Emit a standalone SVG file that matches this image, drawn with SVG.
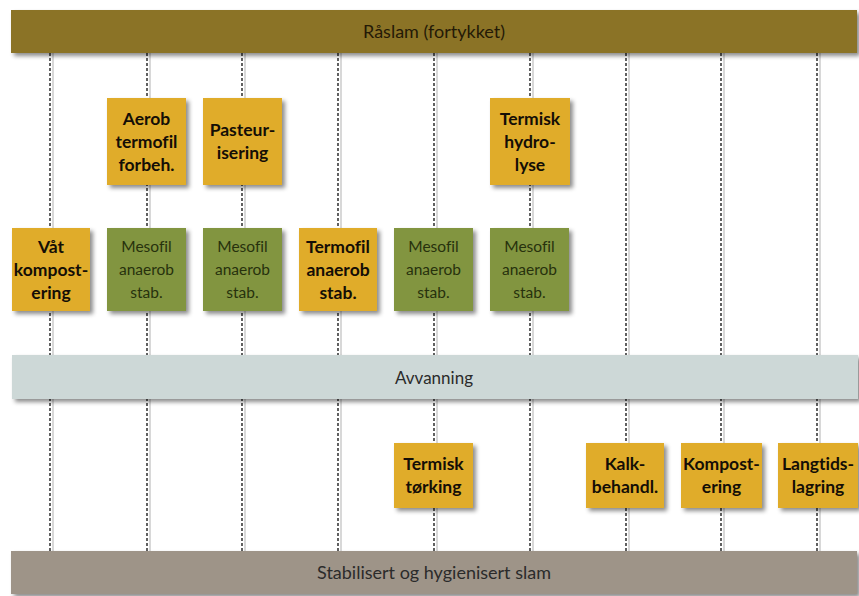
<svg xmlns="http://www.w3.org/2000/svg" width="859" height="596" viewBox="0 0 859 596">
<defs>
<filter id="sh" x="-10%" y="-10%" width="130%" height="130%">
<feDropShadow dx="3" dy="3" stdDeviation="2" flood-color="#000" flood-opacity="0.45"/>
</filter>
</defs>
<style>
text{font-variant-ligatures:none;font-feature-settings:"liga" 0}
.bar{filter:url(#sh)}
.y{fill:#E0AC2C;filter:url(#sh)}
.g{fill:#82953F;filter:url(#sh)}
.tb{font-family:Lato,"Open Sans",sans-serif;font-weight:bold;font-size:17.5px;fill:#140e06;text-anchor:middle}
.tn{font-family:Lato,"Open Sans",sans-serif;font-size:15.5px;fill:#27310d;text-anchor:middle}
.tl{font-family:Lato,"Open Sans",sans-serif;font-size:18px;fill:#2b2b2b;text-anchor:middle}
.ln{stroke:#1e1e1e;stroke-width:1.4;stroke-dasharray:3 2;fill:none}
.lg{stroke:#d8d8d8;stroke-width:2;fill:none}
</style>
<rect width="859" height="596" fill="#ffffff"/>
<g id="connectors">
<path class="lg" d="M53 53V551M150 53V551M245 53V551M341 53V551M437 53V551M533 53V551M629 53V551M724 53V551M820 53V551"/>
<path class="ln" d="M50 53V551M147 53V551M242 53V551M338 53V551M434 53V551M530 53V551M626 53V551M721 53V551M817 53V551"/>
</g>
<g id="raslam">
<rect class="bar" x="11" y="10" width="846" height="43" fill="#8B7326"/>
<text class="tl" x="434" y="38" style="fill:#241a06">Råslam (fortykket)</text>
</g>
<g id="aerob">
<rect class="y" x="107" y="98" width="79" height="87"/>
<text class="tb" x="146.5" y="125">Aerob</text>
<text class="tb" x="146.5" y="148">termofil</text>
<text class="tb" x="146.5" y="171">forbeh.</text>
</g>
<g id="pasteur">
<rect class="y" x="203" y="98" width="79" height="87"/>
<text class="tb" x="242.5" y="136">Pasteur-</text>
<text class="tb" x="242.5" y="159">isering</text>
</g>
<g id="hydrolyse">
<rect class="y" x="490" y="98" width="80" height="87"/>
<text class="tb" x="530" y="125">Termisk</text>
<text class="tb" x="530" y="148">hydro-</text>
<text class="tb" x="530" y="171">lyse</text>
</g>
<g id="vat">
<rect class="y" x="12" y="228" width="78" height="83"/>
<text class="tb" x="51" y="253">Våt</text>
<text class="tb" x="51" y="276">kompost-</text>
<text class="tb" x="51" y="299">ering</text>
</g>
<g id="meso1">
<rect class="g" x="107" y="228" width="79" height="83"/>
<text class="tn" x="146.5" y="252">Mesofil</text>
<text class="tn" x="146.5" y="275">anaerob</text>
<text class="tn" x="146.5" y="298">stab.</text>
</g>
<g id="meso2">
<rect class="g" x="203" y="228" width="79" height="83"/>
<text class="tn" x="242.5" y="252">Mesofil</text>
<text class="tn" x="242.5" y="275">anaerob</text>
<text class="tn" x="242.5" y="298">stab.</text>
</g>
<g id="termofil">
<rect class="y" x="299" y="228" width="78" height="83"/>
<text class="tb" x="338" y="253">Termofil</text>
<text class="tb" x="338" y="276">anaerob</text>
<text class="tb" x="338" y="299">stab.</text>
</g>
<g id="meso3">
<rect class="g" x="394" y="228" width="79" height="83"/>
<text class="tn" x="433.5" y="252">Mesofil</text>
<text class="tn" x="433.5" y="275">anaerob</text>
<text class="tn" x="433.5" y="298">stab.</text>
</g>
<g id="meso4">
<rect class="g" x="490" y="228" width="79" height="83"/>
<text class="tn" x="529.5" y="252">Mesofil</text>
<text class="tn" x="529.5" y="275">anaerob</text>
<text class="tn" x="529.5" y="298">stab.</text>
</g>
<g id="avvanning">
<rect class="bar" x="12" y="355" width="846" height="44" fill="#CDD8D7"/>
<text class="tl" x="434" y="384" style="font-size:17px">Avvanning</text>
</g>
<g id="torking">
<rect class="y" x="394" y="443" width="79" height="65"/>
<text class="tb" x="433.5" y="470">Termisk</text>
<text class="tb" x="433.5" y="493">tørking</text>
</g>
<g id="kalk">
<rect class="y" x="586" y="443" width="78" height="65"/>
<text class="tb" x="625" y="470">Kalk-</text>
<text class="tb" x="625" y="493">behandl.</text>
</g>
<g id="kompost">
<rect class="y" x="681" y="443" width="81" height="65"/>
<text class="tb" x="721.5" y="470">Kompost-</text>
<text class="tb" x="721.5" y="493">ering</text>
</g>
<g id="langtid">
<rect class="y" x="778" y="443" width="80" height="65"/>
<text class="tb" x="818" y="470">Langtids-</text>
<text class="tb" x="818" y="493">lagring</text>
</g>
<g id="stabilisert">
<rect class="bar" x="11" y="551" width="846" height="43" fill="#9E9488"/>
<text class="tl" x="434" y="579">Stabilisert og hygienisert slam</text>
</g>
</svg>
